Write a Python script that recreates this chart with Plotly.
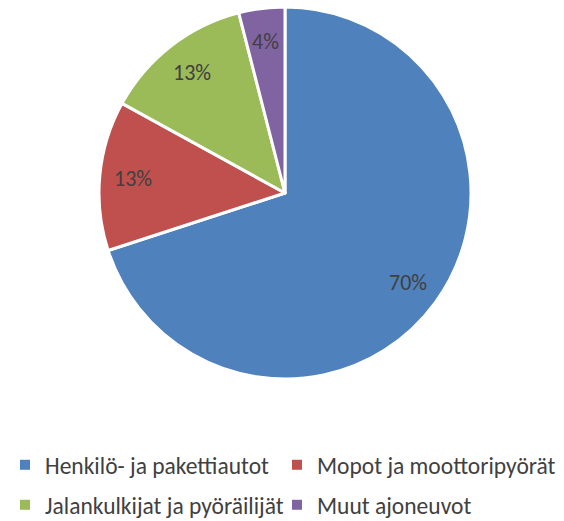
import math
import plotly.graph_objects as go

categories = ["Henkilö- ja pakettiautot", "Mopot ja moottoripyörät",
              "Jalankulkijat ja pyöräilijät", "Muut ajoneuvot"]
values = [70, 13, 13, 4]
colors = ["#4F81BD", "#C0504D", "#9BBB59", "#8064A2"]

W, H = 564, 521
cx, cy, r = 285, 193, 186
FONT = "Calibri, Carlito, Liberation Sans"
TXT = "#404040"

fig = go.Figure()
fig.add_trace(go.Pie(
    labels=categories,
    values=values,
    sort=False,
    direction="clockwise",
    rotation=0,
    marker=dict(colors=colors, line=dict(color="white", width=3)),
    textinfo="none",
    hoverinfo="label+percent",
    showlegend=False,
    domain=dict(x=[(cx - r) / W, (cx + r) / W], y=[1 - (cy + r) / H, 1 - (cy - r) / H]),
))

# percent labels placed along each slice bisector
total = sum(values)
cum = 0
for v in values:
    mid = (cum + v / 2) / total * 2 * math.pi
    cum += v
    px = cx + 0.82 * r * math.sin(mid)
    py = cy - 0.82 * r * math.cos(mid)
    fig.add_annotation(
        x=px / W, y=1 - py / H, xref="paper", yref="paper",
        text=f"{round(v / total * 100)}%", showarrow=False,
        font=dict(size=22, color=TXT, family=FONT),
        xanchor="center", yanchor="middle",
    )

# one legend per entry: 2 x 2 grid under the pie
legend_ids = ["legend", "legend2", "legend3", "legend4"]
legend_xy = [(5, 465), (277, 465), (5, 505), (277, 505)]
for cat, col, lg in zip(categories, colors, legend_ids):
    fig.add_trace(go.Scatter(
        x=[None], y=[None], mode="markers", name=cat,
        marker=dict(symbol="square", size=10, color=col),
        legend=lg, showlegend=True, hoverinfo="skip",
    ))

leg_layout = {}
for lg, (lx, ly) in zip(legend_ids, legend_xy):
    leg_layout[lg] = dict(
        x=lx / W, y=1 - ly / H, xanchor="left", yanchor="middle",
        orientation="h",
        font=dict(size=23.5, color=TXT, family=FONT),
        bgcolor="rgba(0,0,0,0)",
        itemclick=False, itemdoubleclick=False,
    )

fig.update_layout(
    width=W, height=H,
    margin=dict(l=0, r=0, t=0, b=0, autoexpand=False),
    paper_bgcolor="white",
    plot_bgcolor="white",
    xaxis=dict(visible=False),
    yaxis=dict(visible=False),
    font=dict(family=FONT),
    **leg_layout,
)

fig.write_html("out.html", config={"displayModeBar": False},
               post_script="document.body.style.margin='0';")
